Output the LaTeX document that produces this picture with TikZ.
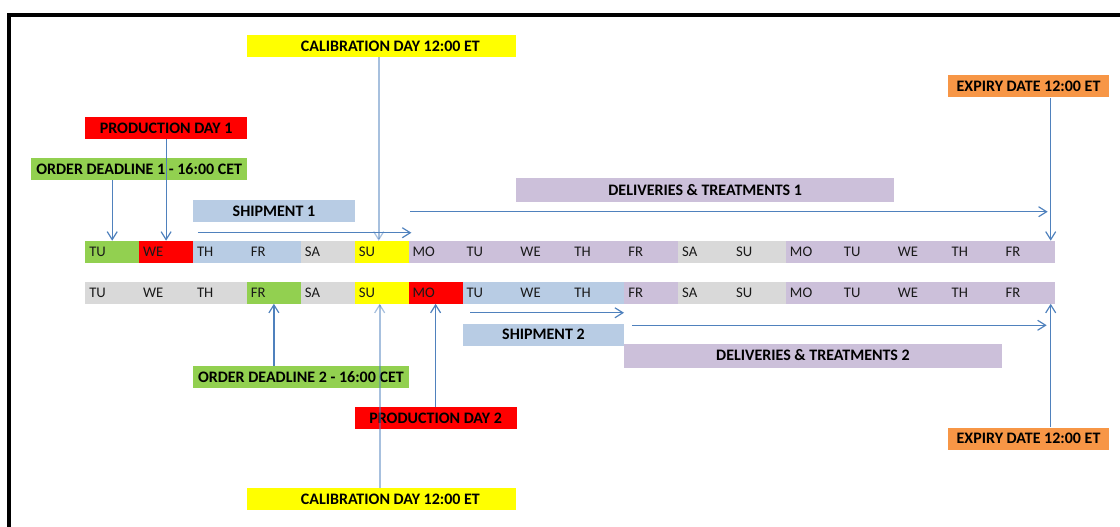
\documentclass[tikz,border=0pt]{standalone}
\usepackage{fontspec}
\setmainfont{Carlito}
\usepackage{tikz}
\usetikzlibrary{arrows.meta,calc}
\definecolor{dgreen}{HTML}{92D050}
\definecolor{dred}{HTML}{FF0000}
\definecolor{dblue}{HTML}{B8CCE4}
\definecolor{dgrey}{HTML}{D9D9D9}
\definecolor{dyellow}{HTML}{FFFF00}
\definecolor{dpurple}{HTML}{CCC0DA}
\definecolor{dorange}{HTML}{F79646}
\definecolor{arrowblue}{HTML}{4F81BD}

\tikzset{
  day/.style={anchor=west,inner xsep=3pt,inner ysep=0pt,text width=34.4pt,
              minimum height=16.5pt,align=left,text=black!90,
              font=\fontsize{11}{13}\selectfont},
  tag/.style={anchor=west,inner sep=0pt,minimum height=16.5pt,
              font=\fontsize{12}{14}\selectfont\bfseries},
  arr/.style={draw=arrowblue,line width=0.9pt,
              -{Straight Barb[length=6pt,width=7.5pt,line width=0.9pt]}},
  calarr/.style={arr,line width=1.6pt,draw opacity=0.5}
}

\begin{document}
\begin{tikzpicture}[x=0.75pt,y=-0.75pt]
  \useasboundingbox (0,0) rectangle (1120,527);
  \draw[line width=3pt] (9.2,527) -- (9.2,14.7) -- (1120,14.7);

  % first week row
  \foreach \d/\c [count=\i from 0] in {TU/dgreen,WE/dred,TH/dblue,FR/dblue,SA/dgrey,
      SU/dyellow,MO/dpurple,TU/dpurple,WE/dpurple,TH/dpurple,FR/dpurple,SA/dgrey,
      SU/dgrey,MO/dpurple,TU/dpurple,WE/dpurple,TH/dpurple,FR/dpurple}
    \node[day,fill=\c] (a\i) at ({85+\i*53.9},252) {\d};
  % second week row
  \foreach \d/\c [count=\i from 0] in {TU/dgrey,WE/dgrey,TH/dgrey,FR/dgreen,SA/dgrey,
      SU/dyellow,MO/dred,TU/dblue,WE/dblue,TH/dblue,FR/dpurple,SA/dgrey,
      SU/dgrey,MO/dpurple,TU/dpurple,WE/dpurple,TH/dpurple,FR/dpurple}
    \node[day,fill=\c] (b\i) at ({85+\i*53.9},292.5) {\d};

  % labels above
  \node[tag,fill=dyellow,minimum width=202.1pt] (cal1) at (246.7,46) {\hspace*{13pt}CALIBRATION DAY 12:00 ET};
  \node[tag,fill=dorange,minimum width=121.3pt] (exp1) at (947.4,86.5) {EXPIRY DATE 12:00 ET};
  \node[tag,fill=dred,minimum width=121.3pt] (pd1) at (85,128) {PRODUCTION DAY 1};
  \node[tag,fill=dgreen,minimum width=161.7pt] (od1) at (31.1,169) {ORDER DEADLINE 1 - 16:00 CET};
  \node[tag,fill=dpurple,minimum width=283pt,minimum height=18pt] (del1) at (516.2,190) {DELIVERIES \& TREATMENTS 1};
  \node[tag,fill=dblue,minimum width=121.3pt] (ship1) at (192.8,211) {SHIPMENT 1};

  % labels below
  \node[tag,fill=dblue,minimum width=121.3pt] (ship2) at (462.3,334.5) {SHIPMENT 2};
  \node[tag,fill=dpurple,minimum width=283pt,minimum height=18pt] (del2) at (624,355.5) {DELIVERIES \& TREATMENTS 2};
  \node[tag,fill=dgreen,minimum width=161.7pt] (od2) at (192.8,377) {ORDER DEADLINE 2 - 16:00 CET};
  \node[tag,fill=dred,minimum width=121.3pt] (pd2) at (354.5,418) {PRODUCTION DAY 2};
  \node[tag,fill=dorange,minimum width=121.3pt] (exp2) at (947.4,438.5) {EXPIRY DATE 12:00 ET};
  \node[tag,fill=dyellow,minimum width=202.1pt] (cal2) at (246.7,499) {\hspace*{13pt}CALIBRATION DAY 12:00 ET};

  \coordinate (e1) at ($(a17.north east)+(-5,0)$);
  \coordinate (e2) at ($(b17.south east)+(-5,0)$);
  \coordinate (c1) at ($(a5.north)+(-3,0)$);
  \coordinate (c2) at ($(b5.south)+(-2,0)$);

  % arrows to first row
  \draw[arr] (a0 |- od1.south) -- (a0.north);
  \draw[arr] (pd1.south -| a1) -- (a1.north);
  \draw[calarr] (c1 |- cal1.south) -- (c1);
  \draw[arr] (e1 |- exp1.south) -- (e1);
  \draw[arr] ($(a2.north west)+(5,-8)$) -- ($(a6.north west)+(3,-8)$);
  \draw[arr] ($(a6.north west)+(2,-29)$) -- ($(e1)+(-3,-29)$);

  % arrows to second row
  \draw[arr] (od2.north -| b3) -- (b3.south);
  \draw[calarr] (c2 |- cal2.north) -- (c2);
  \draw[arr] (pd2.north -| b6) -- (b6.south);
  \draw[arr] (e2 |- exp2.north) -- (e2);
  \draw[arr] ($(b7.south west)+(8,9)$) -- ($(b10.south west)+(0,9)$);
  \draw[arr] ($(b10.south west)+(8,21.5)$) -- ($(e2)+(-4,21.5)$);
\end{tikzpicture}
\end{document}
